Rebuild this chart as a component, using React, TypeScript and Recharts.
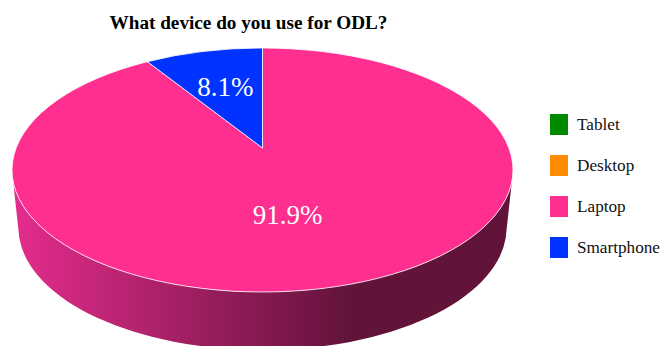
import React from "react";
import { PieChart, Pie, Legend } from "recharts";

const deviceNames = ["Tablet", "Desktop", "Laptop", "Smartphone"];
const deviceShares = [0, 0, 91.9, 8.1];
const deviceColors = ["#008a00", "#ff8c00", "#ff2f8f", "#0033ff"];

const chartData = deviceNames.map((name, i) => ({
  name,
  value: deviceShares[i],
  fill: deviceColors[i],
}));

// Disc projection: the top face is an ellipse whose centre sits below the pie's apex,
// and the bottom face is slightly narrower and lower.
const APEX_X = 262.5;
const APEX_Y = 148;
const OUTER_RX = 250.5;
const TOP_RY = 122;
const TOP_CY = APEX_Y + 22;
const WIDTH_STRETCH = 2.39;
const BASE_RX = 244;
const BASE_RY = 122;
const BASE_CY = 228;

const LABEL_NUDGE: Record<string, [number, number]> = {
  Laptop: [-5, 4],
  Smartphone: [-7, 2],
};

// Where the ray for a clockwise-from-top pie angle meets the top ellipse.
function rimPoint(clockwiseDeg: number, cx: number, cy: number, rx: number) {
  const t = (clockwiseDeg * Math.PI) / 180;
  const dx = WIDTH_STRETCH * Math.sin(t);
  const dy = -Math.cos(t);
  const ay = -(TOP_CY - APEX_Y);
  const a = (dx * dx) / (rx * rx) + (dy * dy) / (TOP_RY * TOP_RY);
  const b = (2 * ay * dy) / (TOP_RY * TOP_RY);
  const c = (ay * ay) / (TOP_RY * TOP_RY) - 1;
  const s = (-b + Math.sqrt(b * b - 4 * a * c)) / (2 * a);
  return { x: cx + s * dx, y: cy + s * dy };
}

function TopFace(props: any) {
  const { cx, cy, outerRadius, startAngle, endAngle, fill } = props;
  if (Math.abs(startAngle - endAngle) < 0.001) return null;
  const from = 90 - startAngle;
  const to = 90 - endAngle;
  const p = rimPoint(from, cx, cy, outerRadius);
  const q = rimPoint(to, cx, cy, outerRadius);
  const ey = cy + (TOP_CY - APEX_Y);
  const a1 = Math.atan2((p.y - ey) / TOP_RY, (p.x - cx) / outerRadius);
  const a2 = Math.atan2((q.y - ey) / TOP_RY, (q.x - cx) / outerRadius);
  const span = (a2 - a1 + Math.PI * 4) % (Math.PI * 2);
  const large = span > Math.PI ? 1 : 0;
  const d = `M${cx},${cy} L${p.x},${p.y} A${outerRadius},${TOP_RY} 0 ${large} 1 ${q.x},${q.y} Z`;
  return <path d={d} fill={fill} stroke="#ffffff" strokeOpacity={0.8} strokeWidth={1} strokeLinejoin="round" />;
}

function SideWall(props: any) {
  const { cx, cy, outerRadius, startAngle, endAngle } = props;
  const from = 90 - startAngle;
  const to = 90 - endAngle;
  // Only the sector spanning the front of the disc shows a wall.
  if (from > 180 || to < 180) return null;
  const ey = cy + (TOP_CY - APEX_Y);
  const topS = 0.098;
  const baseS = 0.082;
  const topC = Math.sqrt(1 - topS * topS);
  const baseC = Math.sqrt(1 - baseS * baseS);
  const topY = ey + TOP_RY * topS;
  const baseY = BASE_CY + BASE_RY * baseS;
  const d = [
    `M${cx - outerRadius * topC},${topY}`,
    `L${cx - BASE_RX * baseC},${baseY}`,
    `A${BASE_RX},${BASE_RY} 0 0 0 ${cx + BASE_RX * baseC},${baseY}`,
    `L${cx + outerRadius * topC},${topY}`,
    `A${outerRadius},${TOP_RY} 0 0 1 ${cx - outerRadius * topC},${topY}`,
    "Z",
  ].join(" ");
  return <path d={d} fill="url(#wallShade)" />;
}

function PercentLabel(props: any) {
  const { cx, cy, midAngle, name, value } = props;
  const t = ((90 - midAngle) * Math.PI) / 180;
  const nudge = LABEL_NUDGE[name] ?? [0, 0];
  return (
    <text
      x={cx + 120 * Math.sin(t) + nudge[0]}
      y={cy - 65 * Math.cos(t) + nudge[1]}
      fill="#ffffff"
      fontSize={27}
      fontFamily="'Liberation Serif', serif"
      textAnchor="middle"
      dominantBaseline="central"
    >
      {`${value.toFixed(1)}%`}
    </text>
  );
}

// The key lists every device, including those with a zero share.
function DeviceLegend() {
  return (
    <div style={{ fontFamily: "'Liberation Serif', serif", fontSize: 17.2, color: "#111" }}>
      {deviceNames.map((name, i) => (
        <div key={name} style={{ display: "flex", alignItems: "center", height: 41 }}>
          <span
            style={{
              display: "inline-block",
              width: 18,
              height: 20.5,
              marginRight: 9,
              background: deviceColors[i],
            }}
          />
          <span style={{ whiteSpace: "nowrap" }}>{name}</span>
        </div>
      ))}
    </div>
  );
}

export default function App() {
  return (
    <div style={{ position: "absolute", left: 0, top: 0, width: 660, height: 346, overflow: "hidden", background: "#fff" }}>
      <PieChart width={660} height={346} margin={{ top: 0, right: 0, bottom: 0, left: 0 }}>
        <defs>
          <linearGradient id="wallShade" x1="0" y1="0" x2="1" y2="0">
            <stop offset="0" stopColor="#e42c8d" />
            <stop offset="0.68" stopColor="#61133a" />
            <stop offset="1" stopColor="#61133a" />
          </linearGradient>
        </defs>
        <text
          x={248.5}
          y={29}
          textAnchor="middle"
          fontFamily="'Liberation Serif', serif"
          fontWeight="bold"
          fontSize={19.2}
          fill="#000"
        >
          What device do you use for ODL?
        </text>
        <Pie
          data={chartData}
          dataKey="value"
          nameKey="name"
          cx={APEX_X}
          cy={APEX_Y}
          innerRadius={0}
          outerRadius={OUTER_RX}
          startAngle={90}
          endAngle={-270}
          shape={SideWall}
          legendType="none"
          isAnimationActive={false}
        />
        <Pie
          data={chartData}
          dataKey="value"
          nameKey="name"
          cx={APEX_X}
          cy={APEX_Y}
          innerRadius={0}
          outerRadius={OUTER_RX}
          startAngle={90}
          endAngle={-270}
          shape={TopFace}
          label={(p: any) => (p.value > 0 ? <PercentLabel {...p} /> : null)}
          labelLine={false}
          legendType="square"
          isAnimationActive={false}
        />
        <Legend
          layout="vertical"
          content={<DeviceLegend />}
          wrapperStyle={{ position: "absolute", left: 550, top: 104, width: 110 }}
        />
      </PieChart>
    </div>
  );
}
